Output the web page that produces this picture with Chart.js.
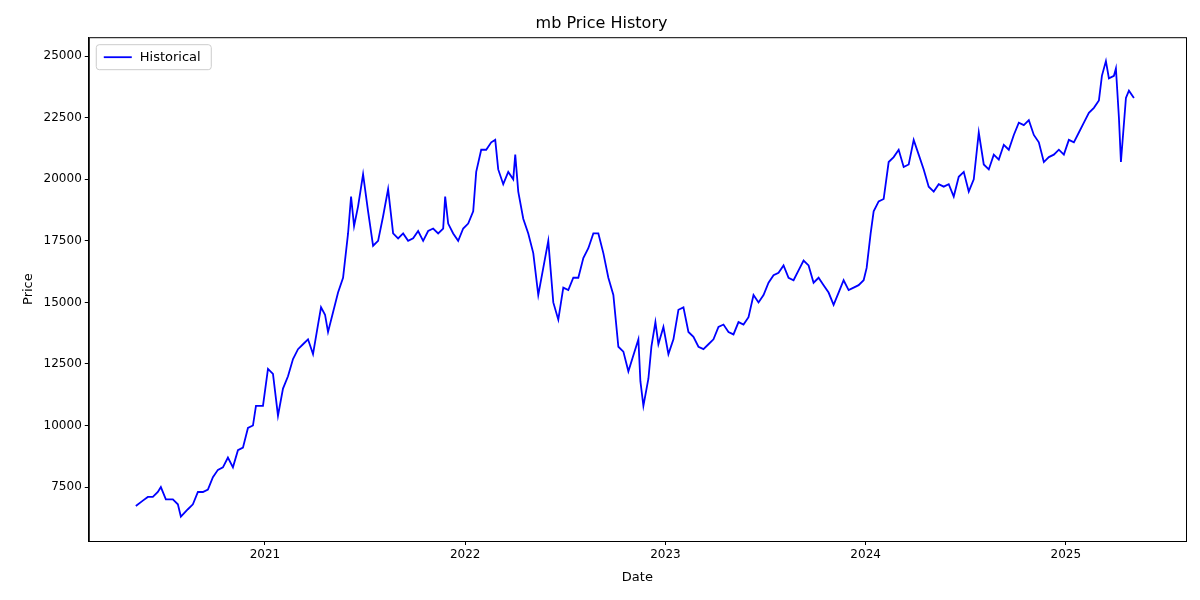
<!DOCTYPE html>
<html>
<head>
<meta charset="utf-8">
<script src="https://cdn.jsdelivr.net/npm/chart.js@4"></script>
<style>
  body { margin: 0; background: #fff; }
  #wrap { width: 1200px; height: 600px; }
</style>
</head>
<body>
<div id="wrap"><canvas id="myChart"></canvas></div>
<script>
// dates as decimal years
const dates = [
  2020.355, 2020.390, 2020.415, 2020.440, 2020.465, 2020.480, 2020.505, 2020.540, 2020.565, 2020.580,
  2020.615, 2020.640, 2020.665, 2020.690, 2020.715, 2020.740, 2020.765, 2020.790, 2020.815, 2020.840,
  2020.865, 2020.890, 2020.915, 2020.940, 2020.955, 2020.990,
  2021.015, 2021.040, 2021.065, 2021.090, 2021.115, 2021.140, 2021.165, 2021.190, 2021.215, 2021.240,
  2021.265, 2021.280, 2021.300, 2021.315, 2021.340, 2021.365, 2021.390, 2021.415, 2021.430, 2021.445,
  2021.465, 2021.490, 2021.515, 2021.540, 2021.565, 2021.590, 2021.615, 2021.640, 2021.665, 2021.690,
  2021.715, 2021.740, 2021.765, 2021.790, 2021.815, 2021.840, 2021.865, 2021.890, 2021.900, 2021.915,
  2021.940, 2021.965, 2021.990,
  2022.015, 2022.040, 2022.055, 2022.080, 2022.105, 2022.130, 2022.150, 2022.165, 2022.190, 2022.215,
  2022.240, 2022.250, 2022.265, 2022.290, 2022.315, 2022.340, 2022.365, 2022.390, 2022.415, 2022.440,
  2022.465, 2022.490, 2022.515, 2022.540, 2022.565, 2022.590, 2022.615, 2022.640, 2022.665, 2022.690,
  2022.715, 2022.740, 2022.765, 2022.790, 2022.815, 2022.865, 2022.875, 2022.890, 2022.915, 2022.930,
  2022.950, 2022.965, 2022.990,
  2023.015, 2023.040, 2023.065, 2023.090, 2023.115, 2023.140, 2023.165, 2023.190, 2023.215, 2023.240,
  2023.265, 2023.290, 2023.315, 2023.340, 2023.365, 2023.390, 2023.415, 2023.440, 2023.465, 2023.490,
  2023.515, 2023.540, 2023.565, 2023.590, 2023.615, 2023.640, 2023.665, 2023.690, 2023.715, 2023.740,
  2023.765, 2023.790, 2023.815, 2023.840, 2023.865, 2023.890, 2023.915, 2023.940, 2023.965, 2023.990,
  2024.005, 2024.025, 2024.040, 2024.065, 2024.090, 2024.115, 2024.140, 2024.165, 2024.190, 2024.215,
  2024.240, 2024.265, 2024.290, 2024.315, 2024.340, 2024.365, 2024.390, 2024.415, 2024.440, 2024.465,
  2024.490, 2024.515, 2024.540, 2024.565, 2024.590, 2024.615, 2024.640, 2024.665, 2024.690, 2024.715,
  2024.740, 2024.765, 2024.790, 2024.815, 2024.840, 2024.865, 2024.890, 2024.915, 2024.940, 2024.965,
  2024.990,
  2025.015, 2025.040, 2025.065, 2025.090, 2025.115, 2025.140, 2025.165, 2025.180, 2025.200, 2025.215,
  2025.240, 2025.250, 2025.265, 2025.275, 2025.300, 2025.315, 2025.340
];
const prices = [
  6730, 6950, 7100, 7100, 7300, 7500, 7000, 7000, 6800, 6300,
  6600, 6800, 7300, 7300, 7400, 7900, 8200, 8300, 8700, 8300,
  9000, 9100, 9900, 10000, 10800, 10800,
  12300, 12100, 10400, 11500, 12000, 12700, 13100, 13300, 13500, 12900,
  14100, 14800, 14500, 13800, 14600, 15400, 16000, 17800, 19300, 18100,
  18900, 20200, 18700, 17300, 17500, 18500, 19600, 17800, 17600, 17800,
  17500, 17600, 17900, 17500, 17900, 18000, 17800, 18000, 19300, 18200,
  17800, 17500, 18000,
  18200, 18700, 20300, 21200, 21200, 21500, 21600, 20400, 19800, 20300,
  20000, 21000, 19500, 18400, 17800, 17000, 15300, 16400, 17500, 15000,
  14300, 15600, 15500, 16000, 16000, 16800, 17200, 17800, 17800, 17000,
  16000, 15300, 13200, 13000, 12200, 13500, 11800, 10800, 11900, 13200,
  14200, 13300, 14000,
  12900, 13500, 14700, 14800, 13800, 13600, 13200, 13100, 13300, 13500,
  14000, 14100, 13800, 13700, 14200, 14100, 14400, 15300, 15000, 15300,
  15800, 16100, 16200, 16500, 16000, 15900, 16300, 16700, 16500, 15800,
  16000, 15700, 15400, 14900, 15400, 15900, 15500, 15600, 15700, 15900,
  16400, 17800, 18700, 19100, 19200, 20700, 20900, 21200, 20500, 20600,
  21600, 21000, 20400, 19700, 19500, 19800, 19700, 19800, 19300, 20100,
  20300, 19500, 20000, 21900, 20600, 20400, 21000, 20800, 21400, 21200,
  21800, 22300, 22200, 22400, 21800, 21500, 20700, 20900, 21000, 21200,
  21000,
  21600, 21500, 21900, 22300, 22700, 22900, 23200, 24200, 24800, 24100,
  24200, 24500, 22500, 20700, 23300, 23600, 23300
];
const yearTicks = [2021, 2022, 2023, 2024, 2025];
const priceTicks = [7500, 10000, 12500, 15000, 17500, 20000, 22500, 25000];

const points = dates.map((d, i) => ({ x: d, y: prices[i] }));

// matplotlib style legend inside the plot, upper left, plus the full frame
const innerLegend = {
  id: "innerLegend",
  afterDraw(chart) {
    const ctx = chart.ctx;
    const a = chart.chartArea;
    ctx.save();
    ctx.strokeStyle = "#000";
    ctx.lineWidth = 1;
    ctx.strokeRect(a.left + 0.5, a.top + 0.5, a.right - a.left, a.bottom - a.top);
    const x = a.left + 7, y = a.top + 7, w = 115, h = 25;
    ctx.fillStyle = "rgba(255,255,255,0.8)";
    ctx.strokeStyle = "#cccccc";
    ctx.beginPath();
    ctx.roundRect(x + 0.5, y + 0.5, w, h, 3);
    ctx.fill();
    ctx.stroke();
    ctx.strokeStyle = "blue";
    ctx.lineWidth = 1.8;
    ctx.beginPath();
    ctx.moveTo(x + 8, y + 13);
    ctx.lineTo(x + 36, y + 13);
    ctx.stroke();
    ctx.fillStyle = "#000";
    ctx.font = "13px 'DejaVu Sans'";
    ctx.textBaseline = "middle";
    ctx.fillText("Historical", x + 44, y + 13);
    ctx.restore();
  },
};

const tickStyle = { color: "#000", font: { family: "DejaVu Sans", size: 12 } };

new Chart(document.getElementById("myChart"), {
  type: "line",
  data: {
    datasets: [
      {
        label: "Historical",
        data: points,
        borderColor: "blue",
        borderWidth: 1.8,
        pointRadius: 0,
        tension: 0,
        fill: false,
      },
    ],
  },
  options: {
    responsive: true,
    maintainAspectRatio: false,
    animation: false,
    layout: { padding: { left: 17, right: 14, top: 2, bottom: 11 } },
    plugins: {
      legend: { display: false },
      tooltip: { enabled: false },
      title: {
        display: true,
        text: "mb Price History",
        color: "#000",
        font: { family: "DejaVu Sans", size: 16, weight: "normal" },
        padding: { top: 12, bottom: 4 },
      },
    },
    scales: {
      x: {
        type: "linear",
        min: 2020.12,
        max: 2025.6,
        afterBuildTicks: (axis) => { axis.ticks = yearTicks.map((v) => ({ value: v })); },
        ticks: { ...tickStyle, callback: (v) => String(v), maxRotation: 0 },
        grid: { display: true, drawOnChartArea: false, color: "#000", tickLength: 4 },
        border: { color: "#000" },
        title: { display: true, text: "Date", color: "#000", font: { family: "DejaVu Sans", size: 13 } },
      },
      y: {
        min: 5310,
        max: 25770,
        afterBuildTicks: (axis) => { axis.ticks = priceTicks.map((v) => ({ value: v })); },
        ticks: { ...tickStyle, callback: (v) => String(v) },
        grid: { display: true, drawOnChartArea: false, color: "#000", tickLength: 4 },
        border: { color: "#000" },
        title: { display: true, text: "Price", color: "#000", font: { family: "DejaVu Sans", size: 13 } },
      },
    },
  },
  plugins: [innerLegend],
});
</script>
</body>
</html>
